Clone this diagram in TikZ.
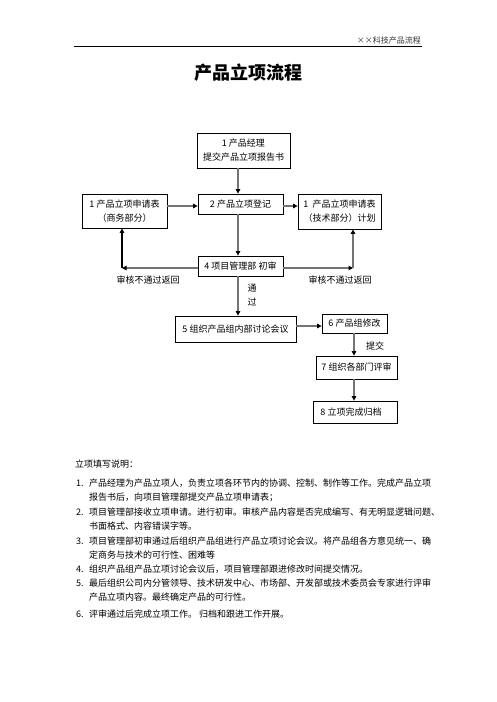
\documentclass[tikz,border=0pt]{standalone}
\usepackage{fontspec}
\setmainfont{Noto Sans CJK SC}
\usetikzlibrary{arrows.meta}
\XeTeXlinebreaklocale "zh"
\XeTeXlinebreakskip=0pt plus 2pt minus 1.2pt
\begin{document}
\begin{tikzpicture}[x=1pt,y=-1pt,
  box/.style={draw=black, line width=0.8pt, inner sep=0pt, align=center, font=\fontsize{9}{14}\selectfont},
  conn/.style={draw=black!55, line width=1.5pt, -{Triangle[length=4.5pt,width=4.5pt,color=black]}},
  lbl/.style={font=\fontsize{9}{11}\selectfont, inner sep=0pt},
  txt/.style={font=\fontsize{9}{11}\selectfont, inner sep=0pt, anchor=west}]
\useasboundingbox (0,0) rectangle (496,702);
\fill[white] (0,0) rectangle (496,702);

% header
\node[anchor=east, inner sep=0pt, font=\fontsize{8}{10}\selectfont, text=black!80] (hdr) at (421,40) {××科技产品流程};
\coordinate (hl) at (74,46);
\coordinate (hr) at (422,46);
\draw[line width=0.8pt] (hl) -- (hr);

% title
\node[inner sep=0pt, font=\fontsize{18}{20}\selectfont\bfseries] (title) at (248,73) {产品立项流程};

% boxes
\node[box, minimum width=93pt, minimum height=35pt] (b1) at (243.5,150.5) {1 产品经理\\提交产品立项报告书};
\node[box, minimum width=85pt, minimum height=34pt] (bL) at (124.5,211) {1 产品立项申请表\\（商务部分）};
\node[box, minimum width=85pt, minimum height=20pt] (b2) at (240.5,204) {2 产品立项登记};
\node[box, minimum width=83pt, minimum height=35pt] (bR) at (339.5,211.5) {1\ \ 产品立项申请表\\（技术部分）计划};
\node[box, minimum width=85pt, minimum height=20pt] (b4) at (240.5,266) {4 项目管理部 初审};
\node[box, minimum width=121pt, minimum height=26pt] (b5) at (235.5,329) {5 组织产品组内部讨论会议};
\node[box, minimum width=65pt, minimum height=19pt] (b6) at (354.5,323.5) {6 产品组修改};
\node[box, minimum width=81pt, minimum height=23pt] (b7) at (356.5,367.5) {7 组织各部门评审};
\node[box, minimum width=84pt, minimum height=22pt] (b8) at (355,412) {8 立项完成归档\hspace{8pt}};

% connectors
\draw[conn] ([xshift=-5.5pt]b1.south) -- ([xshift=-2.5pt]b2.north);
\draw[conn] (bL.east |- 0,206) -- (b2.west |- 0,206);
\draw[conn] (b2.east |- 0,206) -- (bR.west |- 0,206);
\draw[conn] ([xshift=-2.5pt]b2.south) -- ([xshift=-2.5pt]b4.north);
\draw[conn] ([xshift=-2.5pt]b4.south) -- (b5.north -| 238,0);
\draw[conn] (b5.east |- 0,326) -- (b6.west |- 0,326);
\draw[conn] (b6.south -| 354,0) -- (b7.north -| 354,0);
\draw[conn] (b7.south -| 354,0) -- (b8.north -| 354,0);

\coordinate (cL) at (122,268);
\coordinate (cR) at (353,268);
\draw[conn] (b4.west |- cL) -- (cL);
\draw[conn, draw=black] (cL) -- (bL.south -| cL);
\draw[conn] (b4.east |- cR) -- (cR);
\draw[conn] (cR) -- (bR.south -| cR);

% labels
\node[lbl] (lL) at (148,280) {审核不通过返回};
\node[lbl] (lR) at (340,280) {审核不通过返回};
\node[lbl] (lp1) at (252,288) {通};
\node[lbl] (lp2) at (252,302) {过};
\node[lbl] (lt) at (375,346) {提交};

% notes
\node[txt] (n0) at (75,464) {立项填写说明：};
\node[txt] (k1) at (76,483) {1.};
\node[txt] (n1a) at (89,483) {\hbox to 331pt{产品经理为产品立项人，负责立项各环节内的协调、控制、制作等工作。完成产品立项}};
\node[txt] (n1b) at (89,497) {报告书后，向项目管理部提交产品立项申请表；};
\node[txt] (k2) at (76,512) {2.};
\node[txt] (n2a) at (89,512) {\hbox to 331pt{项目管理部接收立项申请。进行初审。审核产品内容是否完成编写、有无明显逻辑问题、}};
\node[txt] (n2b) at (89,526) {书面格式、内容错误字等。};
\node[txt] (k3) at (76,541) {3.};
\node[txt] (n3a) at (89,541) {\hbox to 331pt{项目管理部初审通过后组织产品组进行产品立项讨论会议。将产品组各方意见统一、确}};
\node[txt] (n3b) at (89,555) {定商务与技术的可行性、困难等};
\node[txt] (k4) at (76,569) {4.};
\node[txt] (n4a) at (89,569) {组织产品组产品立项讨论会议后，项目管理部跟进修改时间提交情况。};
\node[txt] (k5) at (76,583) {5.};
\node[txt] (n5a) at (89,583) {\hbox to 331pt{最后组织公司内分管领导、技术研发中心、市场部、开发部或技术委员会专家进行评审}};
\node[txt] (n5b) at (89,597) {产品立项内容。最终确定产品的可行性。};
\node[txt] (k6) at (76,614) {6.};
\node[txt] (n6a) at (89,614) {评审通过后完成立项工作。 归档和跟进工作开展。};
\end{tikzpicture}
\end{document}
